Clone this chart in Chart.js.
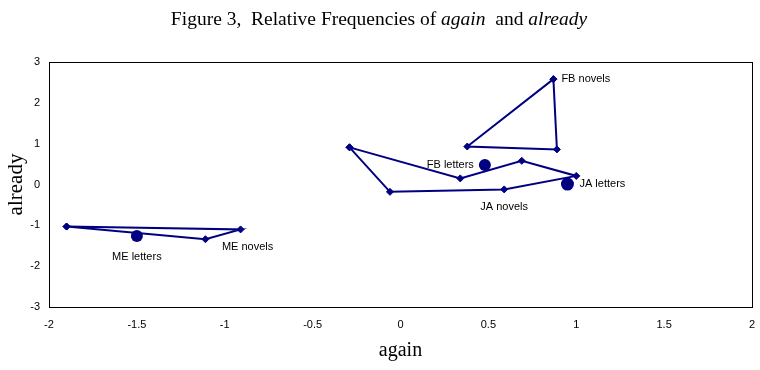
<!DOCTYPE html>
<html>
<head>
<meta charset="utf-8">
<script src="https://cdn.jsdelivr.net/npm/chart.js@4/dist/chart.umd.min.js"></script>
<style>
  html, body { margin: 0; padding: 0; background: #fff; }
</style>
</head>
<body>
<canvas id="freqChart" width="760" height="370"></canvas>
<script>
// Points: [again, already]
const fbNovels = [[0.87, 2.58], [0.38, 0.93], [0.89, 0.86]];
const jaGroup = [[-0.29, 0.91], [0.34, 0.15], [0.69, 0.58], [1.00, 0.21], [0.59, -0.12], [-0.06, -0.18]];
const meGroup = [[-1.90, -1.03], [-0.91, -1.10], [-1.11, -1.34]];

// letter centroids (big dots)
const letterNames = ['FB letters', 'JA letters', 'ME letters'];
const letterX = [0.48, 0.95, -1.50];
const letterY = [0.48, 0.01, -1.26];

const xTicks = [-2, -1.5, -1, -0.5, 0, 0.5, 1, 1.5, 2];
const yTicks = [-3, -2, -1, 0, 1, 2, 3];

const navy = '#000080';

// close a polygon by repeating its first vertex
function ring(pts) {
  return pts.concat([pts[0]]).map(p => ({ x: p[0], y: p[1] }));
}

function polyDataset(pts) {
  return {
    data: ring(pts),
    showLine: true,
    borderColor: navy,
    borderWidth: 2,
    backgroundColor: navy,
    pointStyle: 'rectRot',
    pointRadius: 3.5,
    pointBorderWidth: 1,
    pointBorderColor: navy,
    pointBackgroundColor: navy,
    tension: 0
  };
}

// where each text label sits, relative to a point of the chart
const textLabels = [
  { text: 'FB novels', at: () => fbNovels[0], dx: 8, dy: 0, align: 'left' },
  { text: letterNames[0], at: () => [letterX[0], letterY[0]], dx: -11, dy: 0, align: 'right' },
  { text: letterNames[1], at: () => [letterX[1], letterY[1]], dx: 12, dy: 0, align: 'left' },
  { text: 'JA novels', at: () => jaGroup[4], dx: 0, dy: 18, align: 'center' },
  { text: 'ME novels', at: () => meGroup[1], dx: 7, dy: 18, align: 'center' },
  { text: letterNames[2], at: () => [letterX[2], letterY[2]], dx: 0, dy: 21, align: 'center' }
];

const figureDecor = {
  id: 'figureDecor',
  afterDraw(chart) {
    const ctx = chart.ctx;
    const area = chart.chartArea;
    const sx = chart.scales.x, sy = chart.scales.y;

    // plot frame
    ctx.save();
    ctx.strokeStyle = '#000';
    ctx.lineWidth = 1;
    ctx.strokeRect(Math.round(area.left) + 0.5, Math.round(area.top) + 0.5,
      Math.round(area.right - area.left), Math.round(area.bottom - area.top));

    // point labels
    ctx.fillStyle = '#000';
    ctx.font = '11px "Liberation Sans", Arial, sans-serif';
    ctx.textBaseline = 'middle';
    textLabels.forEach(l => {
      const p = l.at();
      ctx.textAlign = l.align;
      ctx.fillText(l.text, sx.getPixelForValue(p[0]) + l.dx, sy.getPixelForValue(p[1]) + l.dy);
    });

    // title with italic words
    const parts = [
      ['Figure 3,  Relative Frequencies of ', false],
      ['again', true],
      ['  and ', false],
      ['already', true]
    ];
    const fontFor = it => (it ? 'italic ' : '') + '19.5px "Liberation Serif", "Times New Roman", serif';
    let total = 0;
    parts.forEach(p => { ctx.font = fontFor(p[1]); total += ctx.measureText(p[0]).width; });
    let x = 379 - total / 2;
    ctx.textAlign = 'left';
    ctx.textBaseline = 'alphabetic';
    parts.forEach(p => {
      ctx.font = fontFor(p[1]);
      ctx.fillText(p[0], x, 25);
      x += ctx.measureText(p[0]).width;
    });
    ctx.restore();
  }
};

const ctx = document.getElementById('freqChart').getContext('2d');
const chart = new Chart(ctx, {
  type: 'scatter',
  data: {
    datasets: [
      polyDataset(fbNovels),
      polyDataset(jaGroup),
      polyDataset(meGroup),
      {
        data: letterX.map((x, i) => ({ x: x, y: letterY[i] })),
        showLine: false,
        pointStyle: 'circle',
        pointRadius: [6, 6.5, 6],
        pointBorderWidth: 0,
        backgroundColor: navy,
        borderColor: navy
      }
    ]
  },
  options: {
    responsive: false,
    animation: false,
    events: [],
    layout: { padding: { left: 0, right: 8, top: 62, bottom: 0 } },
    plugins: {
      legend: { display: false },
      tooltip: { enabled: false },
      title: { display: false }
    },
    scales: {
      x: {
        type: 'linear',
        min: -2,
        max: 2,
        afterBuildTicks: s => { s.ticks = xTicks.map(v => ({ value: v })); },
        afterFit: s => { s.height = 63; s.paddingLeft = 0; s.paddingRight = 0; },
        grid: { display: false, drawTicks: false },
        border: { display: false },
        ticks: {
          padding: 11,
          color: '#000',
          font: { family: '"Liberation Sans", Arial, sans-serif', size: 11 },
          maxRotation: 0,
          callback: v => String(v)
        },
        title: {
          display: true,
          text: 'again',
          color: '#000',
          font: { family: '"Liberation Serif", "Times New Roman", serif', size: 20 },
          padding: { top: 0, bottom: 7 }
        }
      },
      y: {
        type: 'linear',
        min: -3,
        max: 3,
        afterBuildTicks: s => { s.ticks = yTicks.map(v => ({ value: v })); },
        afterFit: s => { s.width = 49; },
        grid: { display: false, drawTicks: false },
        border: { display: false },
        ticks: {
          padding: 9,
          color: '#000',
          font: { family: '"Liberation Sans", Arial, sans-serif', size: 11 },
          callback: v => String(v)
        },
        title: {
          display: true,
          text: 'already',
          color: '#000',
          font: { family: '"Liberation Serif", "Times New Roman", serif', size: 21 },
          padding: { top: 4, bottom: 0 }
        }
      }
    }
  },
  plugins: [figureDecor]
});
</script>
</body>
</html>
